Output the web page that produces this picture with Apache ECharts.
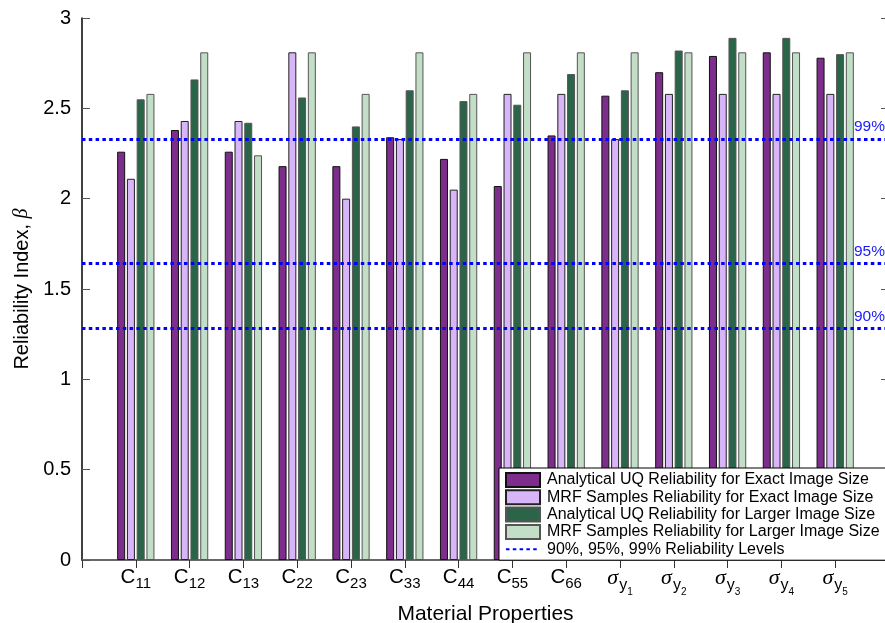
<!DOCTYPE html>
<html><head><meta charset="utf-8">
<script src="https://cdn.jsdelivr.net/npm/echarts@6/dist/echarts.min.js"></script>
<style>html,body{margin:0;padding:0;background:#fff}#c{width:885px;height:623px}</style>
</head><body><div id="c"></div>
<script>
// ---- data ----
const categories = ['C11','C12','C13','C22','C23','C33','C44','C55','C66','σy1','σy2','σy3','σy4','σy5'];
const seriesNames = [
  'Analytical UQ Reliability for Exact Image Size',
  'MRF Samples Reliability for Exact Image Size',
  'Analytical UQ Reliability for Larger Image Size',
  'MRF Samples Reliability for Larger Image Size'
];
const levelName = '90%, 95%, 99% Reliability Levels';
const analyticalExact  = [2.26,2.38,2.26,2.18,2.18,2.34,2.22,2.07,2.35,2.57,2.70,2.79,2.81,2.78];
const mrfExact         = [2.11,2.43,2.43,2.81,2.00,2.33,2.05,2.58,2.58,2.33,2.58,2.58,2.58,2.58];
const analyticalLarger = [2.55,2.66,2.42,2.56,2.40,2.60,2.54,2.52,2.69,2.60,2.82,2.89,2.89,2.80];
const mrfLarger        = [2.58,2.81,2.24,2.81,2.58,2.81,2.58,2.81,2.81,2.81,2.81,2.81,2.81,2.81];
const levels      = [1.2816, 1.6449, 2.3263];
const levelLabels = ['90%', '95%', '99%'];
const yMin = 0, yMax = 3, yStep = 0.5;

// ---- build ----
const FONT = 'Liberation Sans';
const padCats = [''].concat(categories, ['']);
const pad = arr => [null].concat(arr, [null]);
const colors = ['#7D2D8C', '#D8B4F8', '#2B6549', '#C2DEC6'];
const borders = ['#111', '#222', '#555', '#555'];
const values = [analyticalExact, mrfExact, analyticalLarger, mrfLarger];

function catLabel(v) {
  if (!v) return '';
  if (v[0] === 'C') return '{c|C}{s|' + v.slice(1) + '}';
  return '{g|σ}{y|y}{n|' + v.slice(2) + '}';
}

const barSeries = values.map((vals, i) => ({
  name: seriesNames[i],
  type: 'bar',
  xAxisIndex: 0, yAxisIndex: 0,
  data: pad(vals),
  barWidth: 8,
  barGap: '22%',
  itemStyle: { color: colors[i], borderColor: borders[i], borderWidth: 1 },
  emphasis: { disabled: true },
  z: 2
}));

const dotted = { color: '#0000ff', width: 3, type: [3.5, 3.3] };
const lineSeries = {
  name: levelName,
  type: 'line',
  data: padCats.map(() => null),
  symbol: 'none',
  itemStyle: { color: '#0000ff' },
  lineStyle: dotted,
  markLine: {
    silent: true,
    symbol: ['none', 'none'],
    animation: false,
    lineStyle: dotted,
    label: {
      position: 'insideEndTop',
      color: '#1a1aff',
      fontFamily: FONT,
      fontSize: 15.5,
      distance: [4, 4],
      formatter: p => p.name
    },
    data: levels.map((v, i) => ({ name: levelLabels[i], yAxis: v }))
  },
  z: 5
};

const chart = echarts.init(document.getElementById('c'), null, { renderer: 'canvas' });
chart.setOption({
  animation: false,
  backgroundColor: '#fff',
  textStyle: { fontFamily: FONT },
  grid: { left: 82, width: 807, top: 18, bottom: 63, containLabel: false, outerBoundsMode: 'none' },
  legend: {
    orient: 'vertical',
    left: 499, top: 468,
    itemWidth: 34, itemHeight: 14, itemGap: 1.3,
    padding: [4, 20, 3, 6],
    backgroundColor: '#fff',
    borderColor: '#000', borderWidth: 1,
    textStyle: { fontFamily: FONT, fontSize: 16, color: '#000', lineHeight: 16, padding: [0, 0, 0, 2] },
    data: seriesNames.map(n => ({ name: n, icon: 'rect' })).concat([{
      name: levelName,
      itemStyle: { color: 'rgba(0,0,0,0)', borderColor: 'rgba(0,0,0,0)', borderWidth: 0 }
    }]),
    selectedMode: false
  },
  xAxis: [{
    type: 'category',
    position: 'bottom',
    data: padCats,
    boundaryGap: false,
    axisLine: { lineStyle: { color: '#000', width: 1.5 } },
    axisTick: { show: false },
    splitLine: { show: false },
    name: 'Material Properties',
    nameLocation: 'middle',
    nameGap: 44,
    nameTextStyle: { fontFamily: FONT, fontSize: 21, color: '#000' },
    axisLabel: {
      interval: 0,
      margin: 7,
      formatter: catLabel,
      color: '#000',
      rich: {
        c: { fontFamily: FONT, fontSize: 20.5, lineHeight: 20, verticalAlign: 'top', color: '#000' },
        s: { fontFamily: FONT, fontSize: 15, lineHeight: 15, verticalAlign: 'top', padding: [9, 0, 0, 0], color: '#000' },
        g: { fontFamily: 'Liberation Serif', fontStyle: 'italic', fontSize: 22, lineHeight: 20, verticalAlign: 'top', color: '#000' },
        y: { fontFamily: FONT, fontSize: 16, lineHeight: 16, verticalAlign: 'top', padding: [11, 0, 0, 1], color: '#000' },
        n: { fontFamily: FONT, fontSize: 10, lineHeight: 10, verticalAlign: 'top', padding: [20, 0, 0, 0], color: '#000' }
      }
    }
  }, {
    type: 'category',
    position: 'top',
    data: padCats,
    boundaryGap: false,
    axisLine: { lineStyle: { color: '#777', width: 1.5 } },
    axisTick: { show: true, inside: true, length: 8, interval: 0, lineStyle: { color: '#333' } },
    axisLabel: { show: false },
    splitLine: { show: false }
  }],
  yAxis: [{
    type: 'value',
    min: yMin, max: yMax, interval: yStep,
    position: 'left',
    axisLine: { show: true, lineStyle: { color: '#000', width: 1.5 } },
    axisTick: { show: true, inside: true, length: 8, lineStyle: { color: '#555' } },
    splitLine: { show: false },
    axisLabel: { color: '#000', fontFamily: FONT, fontSize: 20, margin: 11 },
    name: 'Reliability Index, {b|β}',
    nameLocation: 'middle',
    nameGap: 50,
    nameRotate: 90,
    nameTextStyle: {
      fontFamily: FONT, fontSize: 20, color: '#000',
      rich: { b: { fontFamily: 'Liberation Serif', fontStyle: 'italic', fontSize: 20, color: '#000' } }
    }
  }, {
    type: 'value',
    min: yMin, max: yMax, interval: yStep,
    position: 'right',
    axisLine: { show: true, lineStyle: { color: '#000', width: 1.5 } },
    axisTick: { show: true, inside: true, length: 8, lineStyle: { color: '#555' } },
    splitLine: { show: false },
    axisLabel: { show: false }
  }],
  series: barSeries.concat([lineSeries])
});
</script>
</body></html>
